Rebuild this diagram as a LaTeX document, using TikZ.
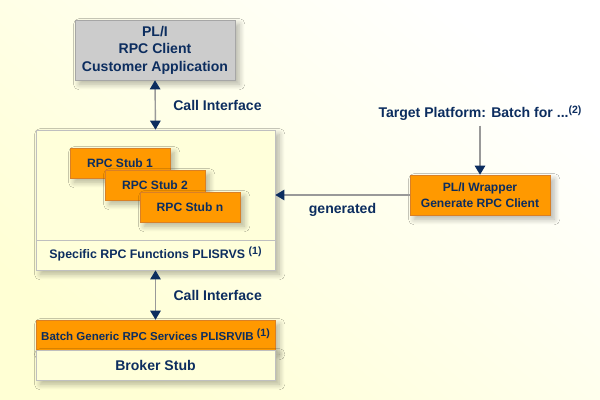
\documentclass[tikz,border=0pt]{standalone}
\usepackage{fontspec}
\setmainfont{Liberation Sans}
\usetikzlibrary{arrows.meta,shadows.blur}

\definecolor{navy}{RGB}{12,45,95}
\definecolor{stuborange}{RGB}{255,153,0}
\definecolor{bgyellow}{RGB}{255,255,212}
\definecolor{boxyellow}{RGB}{255,255,218}
\definecolor{clientgray}{RGB}{204,204,204}

\newcommand{\noteref}[1]{\raisebox{0.6ex}{\fontsize{7.5}{8}\selectfont(#1)}}

\tikzset{
  txt/.style={text=navy,font=\fontsize{10}{12.4}\selectfont\bfseries,align=center},
  small/.style={font=\fontsize{8.6}{11}\selectfont\bfseries},
  shad/.style={blur shadow={shadow xshift=3pt,shadow yshift=-3pt,shadow blur radius=4pt,shadow blur steps=8,shadow opacity=30}},
  graybox/.style={txt,shad,draw=gray!70,fill=clientgray,minimum width=4cm,minimum height=1.5cm},
  stubbox/.style={txt,small,shad,draw=orange!70!gray,fill=stuborange,minimum width=2.5cm,minimum height=0.75cm},
  wide/.style={txt,shad,inner xsep=1pt,draw=gray!50,minimum width=5.975cm,minimum height=0.75cm},
  conn/.style={draw=gray!80,line width=1pt,-{Triangle[color=navy,length=6.5pt,width=7.5pt]}},
  dconn/.style={conn,{Triangle[color=navy,length=6.5pt,width=7.5pt]}-{Triangle[color=navy,length=6.5pt,width=7.5pt]}}
}

\begin{document}
\begin{tikzpicture}[x=0.025cm,y=-0.025cm]

% background
\shade[top color=white,bottom color=bgyellow,shading angle=-40] (0,0) rectangle (600,400);
\useasboundingbox (0,0) rectangle (600,400);

% client
\node[graybox] (client) at (155,50) {PL/I\\RPC Client\\Customer Application};

% specific RPC functions with stubs
\node[txt,shad,draw=gray!50,fill=boxyellow,minimum width=5.975cm,minimum height=3.5cm] (funcs) at (155.5,200) {};
\draw[gray!50] (36,240) -- (275,240);
\node[txt,font=\fontsize{8.8}{11}\selectfont\bfseries] (plisrvs) at (155.5,254) {Specific RPC Functions PLISRVS \noteref{1}};
\node[stubbox] (stub1) at (120,163) {RPC Stub 1};
\node[stubbox] (stub2) at (155,185) {RPC Stub 2};
\node[stubbox] (stubn) at (190,207) {RPC Stub n};

% broker stub
\node[wide,fill=stuborange,draw=orange!70!gray,font=\fontsize{8.2}{10}\selectfont\bfseries] (generic) at (155.5,335) {Batch Generic RPC Services PLISRVIB \noteref{1}};
\node[wide,fill=boxyellow] (broker) at (155.5,365) {Broker Stub};

% wrapper
\node[stubbox,minimum width=3.5cm,minimum height=1cm] (wrapper) at (480,195) {PL/I Wrapper\\Generate RPC Client};
\node[txt] (target) at (480,113) {Target Platform: Batch for ...\noteref{2}};

% connectors
\draw[dconn] (client.south) -- node[txt,right=9pt] {Call Interface} (funcs.north);
\draw[dconn] (funcs.south) -- node[txt,right=9pt] {Call Interface} (generic.north);
\draw[conn] (wrapper.west) -- node[txt,below=2pt] {generated} (wrapper.west -| funcs.east);
\draw[conn] (target.south) -- (wrapper.north);

\end{tikzpicture}
\end{document}
